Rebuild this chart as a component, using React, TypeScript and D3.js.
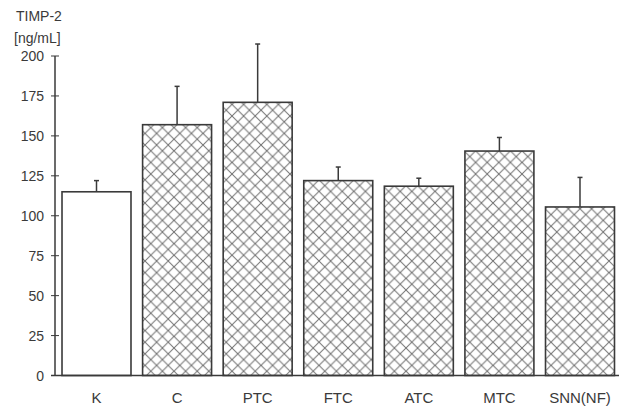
import React from "react";
import * as d3 from "d3";

const categories = ["K", "C", "PTC", "FTC", "ATC", "MTC", "SNN(NF)"];
const means = [115, 157, 171, 122, 118.5, 140.5, 105.5];
const errorTops = [122, 181, 207.5, 130.5, 123.5, 149, 124];
const hatched = [false, true, true, true, true, true, true];
const yTicks = [0, 25, 50, 75, 100, 125, 150, 175, 200];

const W = 622;
const H = 411;
const axisX = 55;
const font = "'Liberation Sans', Arial, sans-serif";
const ink = "#3a3a3a";

export default function App() {
  const y = d3.scaleLinear().domain([0, 200]).range([375.5, 56]);
  const x = d3
    .scaleBand<string>()
    .domain(categories)
    .range([axisX, 621.5])
    .paddingInner(0.144)
    .paddingOuter(0.087);

  return (
    <svg
      width={W}
      height={H}
      style={{ position: "absolute", left: 0, top: 0, background: "#fff" }}
    >
      <defs>
        <pattern
          id="xhatch"
          patternUnits="userSpaceOnUse"
          width={11.6}
          height={11.6}
        >
          <rect width={11.6} height={11.6} fill="#fff" />
          <path
            d="M0,0 L11.6,11.6 M11.6,0 L0,11.6"
            stroke="#707070"
            strokeWidth={1}
          />
        </pattern>
      </defs>

      {/* unit label */}
      <text x={16} y={21} fontFamily={font} fontSize={14} fill={ink}>
        TIMP-2
      </text>
      <text x={14} y={43} fontFamily={font} fontSize={14} fill={ink}>
        [ng/mL]
      </text>

      {/* y axis */}
      <line x1={axisX} x2={axisX} y1={y(200)} y2={y(0)} stroke={ink} strokeWidth={1.5} />
      {yTicks.map((t) => (
        <g key={t}>
          <line x1={axisX - 4} x2={axisX + 4} y1={y(t)} y2={y(t)} stroke={ink} strokeWidth={1} />
          <text
            x={44}
            y={y(t)}
            dy="0.36em"
            textAnchor="end"
            fontFamily={font}
            fontSize={14}
            fill={ink}
          >
            {t}
          </text>
        </g>
      ))}

      {/* bars */}
      {categories.map((c, i) => {
        const bx = x(c)!;
        const bw = x.bandwidth();
        const cx = bx + bw / 2;
        return (
          <g key={c}>
            <line
              x1={cx}
              x2={cx}
              y1={y(means[i])}
              y2={y(errorTops[i])}
              stroke={ink}
              strokeWidth={1.5}
            />
            <line
              x1={cx - 2.5}
              x2={cx + 2.5}
              y1={y(errorTops[i])}
              y2={y(errorTops[i])}
              stroke={ink}
              strokeWidth={1.5}
            />
            <rect
              x={bx}
              y={y(means[i])}
              width={bw}
              height={y(0) - y(means[i])}
              fill={hatched[i] ? "url(#xhatch)" : "#fff"}
              stroke={ink}
              strokeWidth={1.6}
            />
            <text
              x={cx}
              y={403}
              textAnchor="middle"
              fontFamily={font}
              fontSize={15}
              fill={ink}
            >
              {c}
            </text>
          </g>
        );
      })}

      {/* baseline */}
      <line x1={axisX - 4} x2={619} y1={y(0)} y2={y(0)} stroke={ink} strokeWidth={1.5} />
    </svg>
  );
}
